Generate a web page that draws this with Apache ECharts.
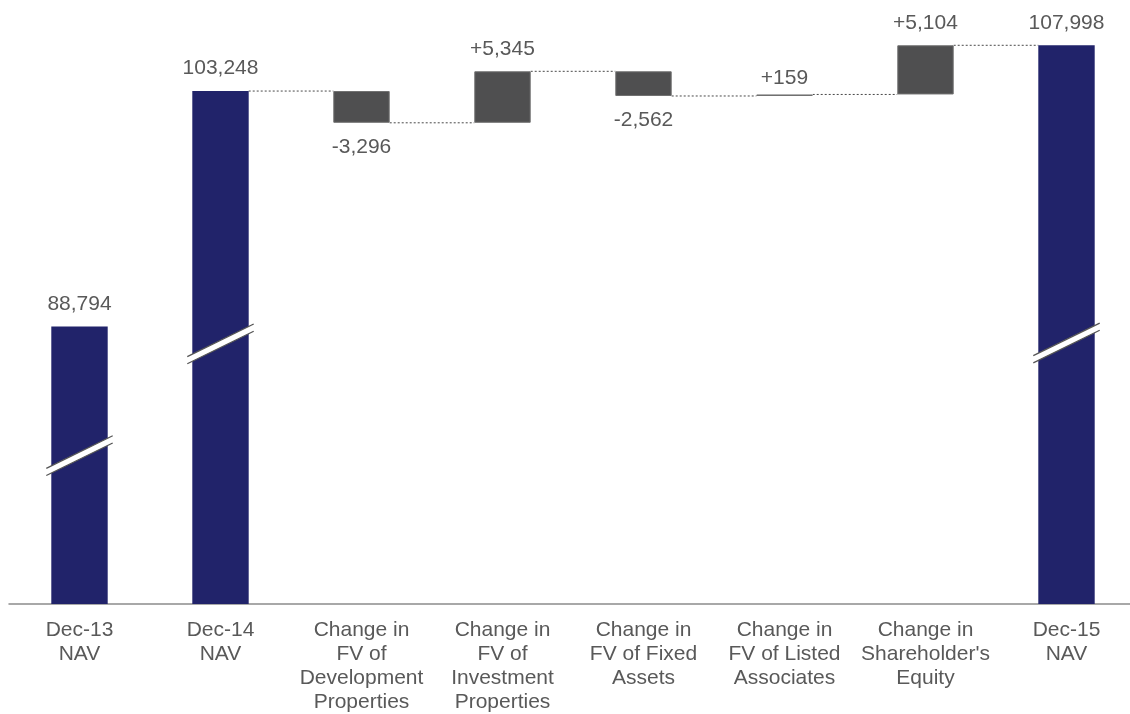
<!DOCTYPE html>
<html>
<head>
<meta charset="utf-8">
<script src="https://cdn.jsdelivr.net/npm/echarts@6/dist/echarts.min.js"></script>
<style>
  html, body { margin: 0; padding: 0; background: #ffffff; overflow: hidden; }
  #chart { width: 1140px; height: 714px; }
</style>
</head>
<body>
<div id="chart"></div>
<script>
// ---- data ----
const categories = [
  'Dec-13\nNAV',
  'Dec-14\nNAV',
  'Change in\nFV of\nDevelopment\nProperties',
  'Change in\nFV of\nInvestment\nProperties',
  'Change in\nFV of Fixed\nAssets',
  'Change in\nFV of Listed\nAssociates',
  "Change in\nShareholder's\nEquity",
  'Dec-15\nNAV'
];
const navValues    = [88794, 103248, null, null, null, null, null, 107998];
const changeValues = [null, null, -3296, 5345, -2562, 159, 5104, null];
// amount of each bar hidden by the broken (not-to-scale) axis
const hiddenByBreak = [60000, 50000, 50000, 50000, 50000, 50000, 50000, 50000];

// ---- derived series ----
const baseData = [], navData = [], changeData = [], connectorData = [];
let running = null;
for (let i = 0; i < categories.length; i++) {
  const off = hiddenByBreak[i];
  if (navValues[i] != null) {
    baseData.push(0);
    navData.push(navValues[i] - off);
    changeData.push('-');
    if (i > 0) running = navValues[i];
  } else {
    const d = changeValues[i];
    const start = running, end = running + d;
    baseData.push(Math.min(start, end) - off);
    navData.push('-');
    changeData.push({
      value: Math.abs(d),
      label: {
        position: d >= 0 ? 'top' : 'bottom',
        distance: (i === 5) ? 6 : (d >= 0 ? 12 : 14)
      }
    });
    running = end;
  }
  // connector from this bar's level to the next bar
  if (i >= 1 && i < categories.length - 1) {
    connectorData.push([i, running - off]);
  }
}

const NAVY = '#21236a';
const GREY = '#4f4f50';
const TEXT = '#595959';
const FONT = "'Liberation Sans', Arial, sans-serif";

function fmt(n) {
  return Math.abs(n).toString().replace(/\B(?=(\d{3})+(?!\d))/g, ',');
}

const chart = echarts.init(document.getElementById('chart'), null, { renderer: 'canvas' });

chart.setOption({
  backgroundColor: '#ffffff',
  animation: false,
  textStyle: { fontFamily: FONT },
  grid: { left: 9, width: 1128, top: 26, bottom: 110, containLabel: false },
  xAxis: {
    type: 'category',
    data: categories,
    axisTick: { show: false },
    axisLine: { lineStyle: { color: '#8c8c8c', width: 1.5 } },
    axisLabel: {
      interval: 0,
      color: TEXT,
      fontSize: 21,
      lineHeight: 24,
      margin: 14,
      fontFamily: FONT
    }
  },
  yAxis: {
    type: 'value',
    min: 0,
    max: 60000,
    show: false,
    splitLine: { show: false }
  },
  series: [
    {
      name: 'base',
      type: 'bar',
      stack: 'wf',
      barCategoryGap: '60%',
      itemStyle: { color: 'transparent' },
      emphasis: { disabled: true },
      data: baseData
    },
    {
      name: 'NAV',
      type: 'bar',
      stack: 'wf',
      barCategoryGap: '60%',
      itemStyle: { color: NAVY },
      label: {
        show: true,
        position: 'top',
        distance: 12,
        color: TEXT,
        fontSize: 21,
        fontFamily: FONT,
        formatter: p => fmt(navValues[p.dataIndex])
      },
      data: navData
    },
    {
      name: 'Change',
      type: 'bar',
      stack: 'wf',
      barCategoryGap: '60%',
      itemStyle: { color: GREY, borderColor: '#707070', borderWidth: 1 },
      label: {
        show: true,
        color: TEXT,
        fontSize: 21,
        fontFamily: FONT,
        formatter: p => {
          const d = changeValues[p.dataIndex];
          return (d >= 0 ? '+' : '-') + fmt(d);
        }
      },
      data: changeData
    },
    {
      name: 'connectors',
      type: 'custom',
      silent: true,
      z: 1,
      data: connectorData,
      renderItem: function (params, api) {
        const i = api.value(0), v = api.value(1);
        const band = api.size([1, 0])[0];
        const bw = band * 0.4;
        const p1 = api.coord([i, v]);
        const p2 = api.coord([i + 1, v]);
        return {
          type: 'line',
          shape: { x1: p1[0] + bw / 2, y1: p1[1], x2: p2[0] - bw / 2, y2: p2[1] },
          style: { stroke: '#4a4a4a', lineWidth: 1, lineDash: [2, 2] }
        };
      }
    },
    {
      name: 'breaks',
      type: 'custom',
      silent: true,
      z: 5,
      data: [[0, 15400], [1, 27000], [7, 27100]],
      renderItem: function (params, api) {
        const i = api.value(0), v = api.value(1);
        const band = api.size([1, 0])[0];
        const hw = band * 0.2 + 5;
        const c = api.coord([i, v]);
        const slope = 0.49, half = 3.6;
        const xl = c[0] - hw, xr = c[0] + hw;
        const yl = c[1] + hw * slope, yr = c[1] - hw * slope;
        return {
          type: 'group',
          children: [
            {
              type: 'polygon',
              shape: { points: [[xl, yl - half], [xr, yr - half], [xr, yr + half], [xl, yl + half]] },
              style: { fill: '#ffffff' }
            },
            {
              type: 'line',
              shape: { x1: xl, y1: yl - half, x2: xr, y2: yr - half },
              style: { stroke: '#555555', lineWidth: 1.3 }
            },
            {
              type: 'line',
              shape: { x1: xl, y1: yl + half, x2: xr, y2: yr + half },
              style: { stroke: '#555555', lineWidth: 1.3 }
            }
          ]
        };
      }
    }
  ]
});
</script>
</body>
</html>
